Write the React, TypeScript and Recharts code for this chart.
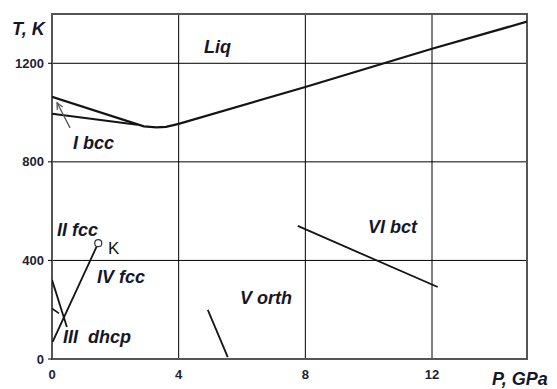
import React from "react"
import { LineChart, Line, XAxis, YAxis, CartesianGrid, ReferenceArea } from "recharts"

// Phase boundaries, pressure (GPa) vs temperature (K)
const LIQ_P = [0, 2.9, 3.3, 3.6, 4, 8, 12, 15]
const LIQ_T = [1064, 944, 940, 942, 954, 1104, 1259, 1369]
const BCC_P = [0, 2.7]
const BCC_T = [995, 951]
const K_P = [0.02, 1.46]
const K_T = [70, 470]
const III_P = [0, 0.47]
const III_T = [321, 130]
const STUB_P = [0, 0.22]
const STUB_T = [205, 185]
const ORTH_P = [4.92, 5.55]
const ORTH_T = [199, 8]
const BCT_P = [7.76, 12.18]
const BCT_T = [540, 292]
const ARROW_P = [0.57, 0.16]
const ARROW_T = [938, 1040]

const X_TICKS = [0, 4, 8, 12]
const Y_TICKS = [0, 400, 800, 1200]

const pts = (p: number[], t: number[]) => p.map((x, i) => ({ p: x, t: t[i] }))

const FONT = "'Liberation Sans', Arial, sans-serif"
const INK = "#141414"
const TICK = { fontSize: 13, fontWeight: 700, fill: "#1e1e34", fontFamily: FONT }

// arrow tail is remembered so the head can be turned along the shaft
let tail: { x: number; y: number } | null = null
function arrowDot(props: any) {
  const { cx, cy, index } = props
  if (index === 0) {
    tail = { x: cx, y: cy }
    return <g key="a0" />
  }
  if (!tail) return <g key="a1" />
  const a = Math.atan2(cy - tail.y, cx - tail.x)
  const L = 7
  const s = 0.45
  const x1 = cx - L * Math.cos(a - s), y1 = cy - L * Math.sin(a - s)
  const x2 = cx - L * Math.cos(a + s), y2 = cy - L * Math.sin(a + s)
  return (
    <polyline key="a1" points={`${x1},${y1} ${cx},${cy} ${x2},${y2}`} fill="none" stroke="#555" strokeWidth={1.3} />
  )
}

function kDot(props: any) {
  const { cx, cy, index } = props
  if (index !== 1) return <g key={`k${index}`} />
  return <circle key="k1" cx={cx} cy={cy} r={3.5} fill="#fff" stroke="#333" strokeWidth={1.2} />
}

const labels: { text: string; x: number; y: number }[] = [
  { text: "Liq", x: 204, y: 47 },
  { text: "I bcc", x: 73, y: 143 },
  { text: "II fcc", x: 57, y: 230 },
  { text: "IV fcc", x: 97, y: 277 },
  { text: "V orth", x: 240, y: 298 },
  { text: "III  dhcp", x: 63, y: 337 },
  { text: "VI bct", x: 368, y: 227 },
  { text: "T, K", x: 12, y: 29 },
  { text: "P, GPa", x: 492, y: 379 },
]

export default function App() {
  const seg = (key: string, p: number[], t: number[], w = 1.8) => (
    <Line
      key={key}
      data={pts(p, t)}
      dataKey="t"
      type="linear"
      stroke={INK}
      strokeWidth={w}
      dot={false}
      activeDot={false}
      isAnimationActive={false}
    />
  )

  return (
    <div style={{ position: "relative", width: 557, height: 389, background: "#fff" }}>
      <style>{"body{margin:0}"}</style>
      <LineChart width={557} height={389} margin={{ top: 14, right: 30, left: 4, bottom: 6 }}>
        <CartesianGrid stroke="#000" strokeWidth={1} />
        <XAxis
          type="number"
          dataKey="p"
          domain={[0, 15]}
          ticks={X_TICKS}
          allowDataOverflow
          axisLine={false}
          tickLine={false}
          tickSize={0}
          tickMargin={11}
          height={24}
          tick={TICK}
        />
        <YAxis
          type="number"
          dataKey="t"
          domain={[0, 1400]}
          ticks={Y_TICKS}
          allowDataOverflow
          axisLine={false}
          tickLine={{ stroke: "#000" }}
          tickSize={4}
          tickMargin={4}
          width={48}
          tick={TICK}
        />
        <ReferenceArea x1={0} x2={15} y1={0} y2={1400} fill="none" stroke="#555" strokeWidth={2} ifOverflow="visible" />
        {seg("liq", LIQ_P, LIQ_T, 2.2)}
        {seg("bcc", BCC_P, BCC_T, 2)}
        {seg("iii", III_P, III_T)}
        {seg("stub", STUB_P, STUB_T, 1.6)}
        {seg("orth", ORTH_P, ORTH_T)}
        {seg("bct", BCT_P, BCT_T)}
        <Line
          data={pts(K_P, K_T)}
          dataKey="t"
          type="linear"
          stroke={INK}
          strokeWidth={1.8}
          dot={kDot}
          activeDot={false}
          isAnimationActive={false}
        />
        <Line
          data={pts(ARROW_P, ARROW_T)}
          dataKey="t"
          type="linear"
          stroke="#555"
          strokeWidth={1.3}
          dot={arrowDot}
          activeDot={false}
          isAnimationActive={false}
        />
      </LineChart>
      <svg width={557} height={389} style={{ position: "absolute", left: 0, top: 0, pointerEvents: "none" }}>
        {labels.map((l) => (
          <text
            key={l.text}
            x={l.x}
            y={l.y}
            dominantBaseline="central"
            fontFamily={FONT}
            fontSize={18}
            fontWeight={700}
            fontStyle="italic"
            fill="#16162a"
            style={{ whiteSpace: "pre" }}
          >
            {l.text}
          </text>
        ))}
        <text x={108} y={248} dominantBaseline="central" fontFamily={FONT} fontSize={17} fill={INK}>
          K
        </text>
      </svg>
    </div>
  )
}
